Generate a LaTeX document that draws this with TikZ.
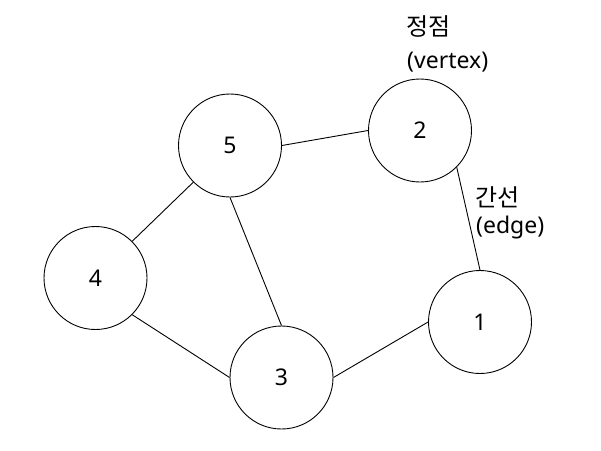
\documentclass[tikz,border=0pt]{standalone}
\usepackage{fontspec}
\setmainfont{Noto Sans}
\newfontfamily\kr{Noto Sans CJK KR}
\begin{document}
\begin{tikzpicture}[x=1pt,y=-1pt,
  vtx/.style={circle,draw,line width=0.9pt,minimum size=103pt,inner sep=0pt,font=\fontsize{23}{27}\selectfont},
  lbl/.style={anchor=west,inner sep=0pt,font=\fontsize{23}{27}\selectfont},
  klbl/.style={anchor=west,inner sep=0pt,font=\kr\fontsize{24}{28}\selectfont},
  edge/.style={line width=0.9pt}]
\useasboundingbox (0,0) rectangle (601,450);
\node[vtx] (n5) at (230,145.5) {5};
\node[vtx] (n2) at (420,130.5) {2};
\node[vtx] (n4) at (95.5,278) {4};
\node[vtx] (n3) at (281.5,377.5) {3};
\node[vtx] (n1) at (480,322) {1};
\draw[edge] (n5.east) -- (n2.west);
\draw[edge] (n2.south east) -- (n1.north);
\draw[edge] (n1.west) -- (n3.east);
\draw[edge] (n3.west) -- (n4.south east);
\draw[edge] (n4.north east) -- (n5.south west);
\draw[edge] (n5.south) -- (n3.north);
\node[klbl] (t1) at (406,26) {정점};
\node[lbl] (t2) at (407,62) {(vertex)};
\node[klbl] (t3) at (475,197) {간선};
\node[lbl] (t4) at (476,228) {(edge)};
\end{tikzpicture}
\end{document}
